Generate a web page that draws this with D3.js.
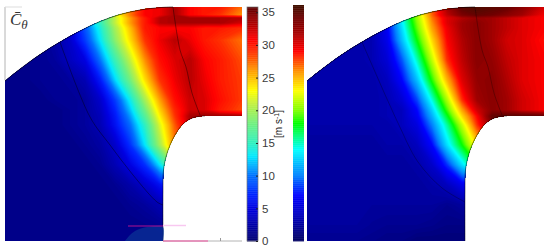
<!DOCTYPE html>
<html><head><meta charset="utf-8">
<script src="https://cdn.jsdelivr.net/npm/d3@7"></script>
<style>html,body{margin:0;background:#fff}svg{display:block}</style></head>
<body><svg id="c" width="550" height="249"></svg>
<script>
const colX=[0,20,40,55,70,85,100,115,130,145,160,175,190,205,220,245];
const rowY=[7,15,18,23,28,40,60,80,100,110,116,125,145,165,185,205,225,241];
const fieldLeft=[
[1,1,1.5,2,5,11,16,22,27,31,31.5,33.5,31,30,30,27],
[1,1,1.5,2,5,11,16,22,27,31,31.5,33.5,31,30,29,26],
[1,1,1.5,2,4,10,15,21,26,30,33,33.5,33.5,33.5,33.5,33],
[1,1,1.5,2,4,10,15,21,26,30,33,33.5,33.5,33.5,33.5,32],
[1,1,1.5,2,4,9,14,20,25,30,31,31,31,30,30,29],
[1,1,1.5,2.5,4,8,13,19,24,29,31.5,33,31.5,30,29,27],
[1,1,1.5,2,3.5,5,10,15.5,21,26.5,30.5,32,33,31,30,28],
[1,1,1.5,1.5,2,3,6.5,12.5,18,24,29,31.5,33,31.5,30,28.5],
[1,1,1,1.5,1.5,2,4,8,13.5,20,26,30.5,32.5,32,30.5,28.5],
[1,1,1,1,1.5,2,3.5,7,12,18,24.5,29.5,32.5,32,30,28],
[1,1,1,1,1.5,2,3.2,6.5,11,16.8,23.5,29,33.5,34,34,33.5],
[1,1,1,1,1.5,2,3,6,9.8,15,22,28,33,34,34,33.5],
[1,1,1,1,1,1.5,2.2,4,7.5,13,20,27,30,30,30,30],
[1,1,1,1,1,1,1.5,3,5,7.5,13,20,20,20,20,20],
[1,1,1,1,1,1,1,1.5,2.5,4,6,8,8,8,8,8],
[1,1,1,1,1,1,1,1,1.5,2,3,3,3,3,3,3],
[1,1,1,1,1,1,1,1,1,1.2,1.5,1.5,1.5,1.5,1.5,1.5],
[1,1,1,1,1,1,1,1,1,1,1,1,1,1,1,1]];
const fieldRight=[
[3,3,3,3,3.5,7,14,21,27,32,35,35.5,35,34.5,33,30],
[3,3,3,3,3.5,7,14,21,27,31,33.5,34.5,34,33,32,29],
[3,3,3,3,3.5,7,14,20.5,26.5,30,31.5,32.5,32,31,30,29],
[3,3,3,3,3.5,7,13.5,20,26,30,32,33,32,31,30,29],
[3,3,3,3,3.5,6.5,13,19.5,25.5,29.5,32,33,32,31,30,29],
[3,3,3,3,3.5,6,12,18,24,29,31.5,33,32,30.5,30,28.5],
[3,3,3,3,3.5,5,9,15,21.5,28,31,33,32.5,31,30,29],
[3,3,3,3,3,4,7,12,18.5,25,30,32.5,33,31.5,30,29],
[3,3,3,3,3,3.5,5,8.5,14.5,21,28,32,33,32,30.5,29],
[3,3,3,3,3,3.5,4,7,12.5,19,25.5,30.5,33,32,30.5,29],
[3,3,3,3,3,3.5,4,6.5,11.5,17.5,24,29,34.5,35,35,34.5],
[3,3,3,3,3,3,4,5.5,10,15.5,21.5,28,33,34,34,34],
[2.5,2.5,2.5,2.5,2.5,3,3,4,7,13,18,24,28,28,28,28],
[2.5,2.5,2.5,2.5,2.5,2.5,2.5,3,4.5,8,13,18,20,20,20,20],
[2.5,2.5,2.5,2.5,2.5,2.5,2.5,2.5,3,4,6,7,8,8,8,8],
[2.5,2.5,2.5,2.5,2.5,2.5,2.5,2.5,2.5,2,2.5,3,3,3,3,3],
[2.5,2.5,2.5,2.5,2.2,2,2,2,1.8,1.5,1.5,1.5,1.5,1.5,1.5,1.5],
[2,2,2,2,1.8,1.5,1.5,1,1,1,1,1,1,1,1,1]];
const shroud=[[5,81],[20,69],[40,54.5],[60,42],[80,31],[100,21.5],[120,14.5],[140,10],[160,7.6],[173,7]];
const hub=[[205,116],[198,116.5],[190,119],[182,125],[175,135],[170,145],[166,157],[163.5,170],[163,192],[163,241]];
const bladeA=[[173,7],[180,50],[186,67],[192,93],[200,115]];
const bladeBLeft=[[60,42],[90,117],[110,145],[133,175],[157,202],[163,205]];
const bladeBRight=[[60,42],[96,123],[116,162],[140,188],[163,202]];
const blob=[[125,241],[130,235],[137,230],[147,227],[163,227],[163,241]];
const cornerX=242, bottomY=241, hubTopY=116;
const ticksLeft=[0,5,10,15,20,25,30,35];
const stopsLeft=[0,5,7,10,13,15,18,21,23,26,29,31,33,35.8];
const colorsLeft=["#000070","#0000e0","#0020ff","#0070ff","#00e8ff","#30f0c0","#70f080","#c0f040","#ffff00","#ffa000","#ff3000","#ff0000","#b80000","#600000"];
const stopsRight=[0,3,7,10,14,16,18,20,23,26,29,32,34,36];
const colorsRight=["#000060","#0000a8","#0000ff","#0080ff","#00ffff","#00ff80","#00ff00","#80ff00","#ffff00","#ff9000","#ff0000","#a00000","#700000","#401000"];

const svg=d3.select("#c");
const defs=svg.append("defs");
const smooth=d3.line().x(d=>d[0]).y(d=>d[1]).curve(d3.curveCatmullRom.alpha(0.5));
function scaleColor(s,c){return d3.scaleLinear().domain(s).range(c).interpolate(d3.interpolateRgb).clamp(true);}

function panel(id,offset,field,color,bladeB,lineOp){
  const X=d3.scaleLinear().domain([0,245]).range([offset,245+offset]);
  const colI=d3.scaleLinear().domain(d3.range(colX.length)).range(colX);
  const rowI=d3.scaleLinear().domain(d3.range(rowY.length)).range(rowY);
  const proj=d3.geoTransform({point(x,y){this.stream.point(X(colI(x-0.5)),rowI(y-0.5));}});
  const gp=d3.geoPath(proj);
  const pts=a=>a.map(d=>[X(d[0]),d[1]]);
  const outline=smooth(pts(shroud))+`L${X(cornerX)},${shroud[shroud.length-1][1]}L${X(cornerX)},${hubTopY}`+
    smooth(pts(hub)).replace(/^M/,"L")+`L${X(shroud[0][0])},${bottomY}Z`;
  defs.append("clipPath").attr("id",id).append("path").attr("d",outline);
  const g=svg.append("g").attr("clip-path",`url(#${id})`);
  const contours=d3.contours().size([colX.length,rowY.length]).smooth(true)
    .thresholds(d3.range(0,36.25,0.25))(field.flat());
  g.selectAll("path.b").data(contours).join("path").attr("class","b")
    .attr("d",gp).attr("fill",d=>color(d.value+0.125));
  const line=svg.append("g").attr("fill","none").attr("stroke","#000");
  line.append("path").attr("d",smooth(pts(bladeA))).attr("stroke-opacity",lineOp).attr("stroke-width",0.8);
  line.append("path").attr("d",smooth(pts(bladeB))).attr("stroke-opacity",lineOp).attr("stroke-width",0.8);
  line.append("path").attr("d",smooth(pts(shroud))).attr("stroke-opacity",0.75).attr("stroke-width",0.8);
  line.append("path").attr("d",smooth(pts(hub))).attr("stroke-opacity",0.6).attr("stroke-width",0.8);
  return {X,pts};
}
const cL=scaleColor(stopsLeft,colorsLeft), cR=scaleColor(stopsRight,colorsRight);

const pL0X=d3.scaleLinear().domain([0,245]).range([0,245]);
svg.append("line").attr("x1",5).attr("x2",5).attr("y1",7).attr("y2",80).attr("stroke","#b4b4b4").attr("stroke-width",1);
svg.append("line").attr("x1",5).attr("x2",22).attr("y1",7).attr("y2",7).attr("stroke","#ddd");
const axG=svg.append("g").attr("transform",`translate(0,${bottomY})`)
  .call(d3.axisBottom(pL0X).tickValues([220]).tickSize(-3).tickFormat(""));
axG.select(".domain").attr("stroke","#b4b4b4").attr("d",`M${pL0X(163)},0H${pL0X(242)}`);
axG.selectAll("line").attr("stroke","#999");

const pL=panel("cl",0,fieldLeft,cL,bladeBLeft,0.5);
const pR=panel("cr",302,fieldRight,cR,bladeBRight,0.35);

const patch=svg.append("g");
patch.append("path").attr("d",d3.line().curve(d3.curveCatmullRom)(pL.pts(blob))+"Z").attr("fill","#0a3596").attr("fill-opacity",0.7);
patch.append("line").attr("x1",pL.X(128)).attr("x2",pL.X(163)).attr("y1",226).attr("y2",226).attr("stroke","#b01090").attr("stroke-width",1.2);
patch.append("line").attr("x1",pL.X(163)).attr("x2",pL.X(186)).attr("y1",225.5).attr("y2",225.5).attr("stroke","#f8c8f0").attr("stroke-width",1.5);
patch.append("line").attr("x1",pL.X(163)).attr("x2",pL.X(208)).attr("y1",bottomY).attr("y2",bottomY).attr("stroke","#f050a0").attr("stroke-width",1);

function colorbar(x0,x1,y0,y1,maxV,color){
  const y=d3.scaleLinear().domain([0,maxV]).range([y1,y0]);
  const g=svg.append("g");
  const vals=d3.range(0,maxV,0.1);
  g.selectAll("rect").data(vals).join("rect").attr("x",x0).attr("width",x1-x0)
    .attr("y",d=>y(d+0.1)).attr("height",d=>y(d)-y(d+0.1)+0.4).attr("fill",d=>color(d+0.05));
  return y;
}
const yL=colorbar(247,258,7,241,35.8,cL);
const yR=colorbar(293,304,5,241,36,cR);
svg.append("rect").attr("x",247).attr("y",7).attr("width",11).attr("height",234).attr("fill","none").attr("stroke","#777").attr("stroke-width",0.7);
const axR=svg.append("g").attr("transform","translate(258,0)").call(d3.axisRight(yL).tickValues(ticksLeft).tickSize(-2).tickPadding(4));
axR.select(".domain").remove();
axR.selectAll("line").attr("stroke","#222");
axR.selectAll("text").attr("x",4).attr("fill","#3a3a3a").style("font","11.5px 'Liberation Sans',Arial,sans-serif");

const unit=svg.append("text").attr("transform","translate(282,124) rotate(-90)").attr("text-anchor","middle")
  .style("font","10px 'Liberation Sans',Arial,sans-serif").attr("fill","#222");
unit.append("tspan").text("[m s");
unit.append("tspan").attr("dy",-3).style("font-size","7px").text("-1");
unit.append("tspan").attr("dy",3).text("]");

const lab=svg.append("text").attr("x",10).attr("y",25).attr("fill","#333")
  .style("font","italic 17px 'Liberation Serif',serif");
lab.append("tspan").text("C\u0304");
lab.append("tspan").attr("dy",4).style("font-size","13px").text("\u03b8");
</script></body></html>
